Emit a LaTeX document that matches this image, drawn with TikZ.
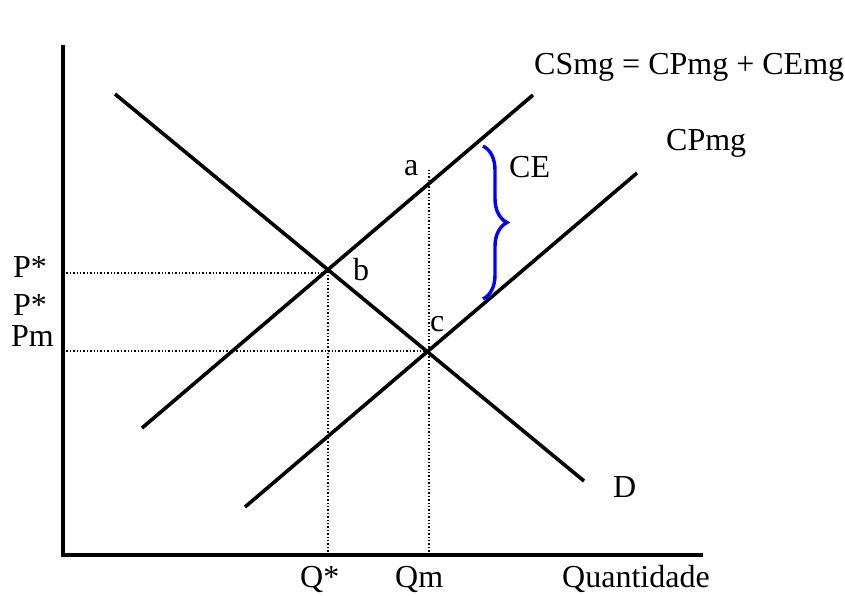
\documentclass[tikz,border=0pt]{standalone}
\usepackage{fontspec}
\setmainfont{Liberation Serif}
\usetikzlibrary{decorations.pathreplacing}

\begin{document}
\begin{tikzpicture}[
    x=1pt, y=-1pt,
    axis/.style={line width=3.6pt},
    curve/.style={line width=3.6pt},
    guide/.style={line width=1.6pt, dash pattern=on 1.4pt off 2pt},
    lbl/.style={anchor=base west, inner sep=0pt, font=\fontsize{32}{38}\selectfont},
    cebrace/.style={draw=blue, line width=3.4pt, decorate, decoration={brace, amplitude=24pt}}
]
\useasboundingbox (0,0) rectangle (845,595);

% axes
\coordinate (ytop) at (63,45);
\coordinate (O) at (63,555);
\coordinate (xend) at (703,555);
\draw[axis] (ytop) -- (O) -- (xend);

% curves
\coordinate (d1) at (115,94);
\coordinate (d2) at (584,481);
\coordinate (cs1) at (142,428);
\coordinate (cs2) at (533,95);
\coordinate (cp1) at (245,507);
\coordinate (cp2) at (637,173);
\draw[curve] (d1) -- (d2);
\draw[curve] (cs1) -- (cs2);
\draw[curve] (cp1) -- (cp2);

\coordinate (b) at (intersection of d1--d2 and cs1--cs2);
\coordinate (c) at (intersection of d1--d2 and cp1--cp2);
\coordinate (pstar) at (63,273);
\coordinate (pm) at (63,351);
\coordinate (a) at (429,170);

% guide lines
\draw[guide] (pstar) -- (pstar -| b);
\draw[guide] (O -| b) -- (b);
\draw[guide] (pm) -- (pm -| c);
\draw[guide] (O -| a) -- (a);

% brace
\coordinate (cetop) at (483,146);
\coordinate (cebot) at (483,299);
\draw[cebrace] (cetop) -- (cebot);

% labels
\node[lbl] (lcsmg) at (534,74) {CSmg = CPmg + CEmg};
\node[lbl] (lcpmg) at (666,150) {CPmg};
\node[lbl] (lce) at (509,177) {CE};
\node[lbl] (la) at (404,175) {a};
\node[lbl] (lb) at (353,280) {b};
\node[lbl] (lc) at (430,331) {c};
\node[lbl] (ld) at (613,497) {D};
\node[lbl] (lqstar) at (300,587) {Q*};
\node[lbl] (lqm) at (395,587) {Qm};
\node[lbl] (lquant) at (562,587) {Quantidade};
\node[lbl] (lpstar) at (13,277) {P*};
\node[lbl] (lpstar2) at (13,315) {P*};
\node[lbl] (lpm) at (11,346) {Pm};
\end{tikzpicture}
\end{document}
